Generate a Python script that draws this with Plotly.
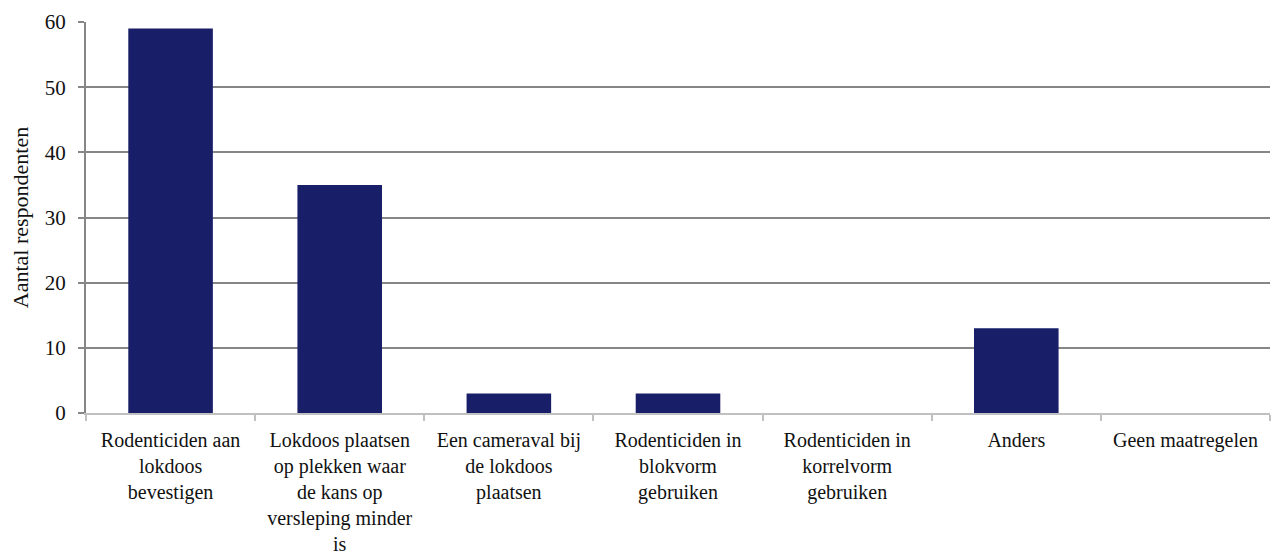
import plotly.graph_objects as go

categories = [
    "Rodenticiden aan<br>lokdoos<br>bevestigen",
    "Lokdoos plaatsen<br>op plekken waar<br>de kans op<br>versleping minder<br>is",
    "Een cameraval bij<br>de lokdoos<br>plaatsen",
    "Rodenticiden in<br>blokvorm<br>gebruiken",
    "Rodenticiden in<br>korrelvorm<br>gebruiken",
    "Anders",
    "Geen maatregelen",
]
respondents = [59, 35, 3, 3, 0, 13, 0]
y_ticks = [0, 10, 20, 30, 40, 50, 60]

font_family = "Liberation Serif, DejaVu Serif, serif"

fig = go.Figure(go.Bar(
    x=categories,
    y=respondents,
    marker={"color": "#191e68", "line": {"width": 0}},
    showlegend=False,
))

# page body has an 8px margin, so the margins are shifted to land the plot at 86..1270 x 22..413
fig.update_layout(
    width=1288,
    height=559,
    margin={"l": 78, "r": 26, "t": 14, "b": 154, "autoexpand": False},
    plot_bgcolor="white",
    paper_bgcolor="white",
    bargap=0.5,
    font={"family": font_family, "size": 20, "color": "#111111"},
)

fig.update_xaxes(
    showline=True,
    linecolor="#c0c0c0",
    linewidth=2,
    ticks="outside",
    tickson="boundaries",
    ticklen=6,
    tickcolor="#c0c0c0",
    tickwidth=2,
    ticklabelstandoff=8,
    showgrid=False,
    tickangle=0,
    automargin=False,
    tickfont={"size": 20},
)

fig.update_yaxes(
    range=[0, 60],
    tickvals=y_ticks,
    showline=True,
    linecolor="#868686",
    linewidth=2,
    ticks="outside",
    ticklen=6,
    tickcolor="#868686",
    tickwidth=2,
    ticklabelstandoff=8,
    showgrid=True,
    gridcolor="#868686",
    gridwidth=1.5,
    zeroline=False,
    automargin=False,
    tickfont={"size": 21},
    title={"text": "Aantal respondenten", "font": {"size": 22}, "standoff": 16},
)

fig.write_html("out.html")
